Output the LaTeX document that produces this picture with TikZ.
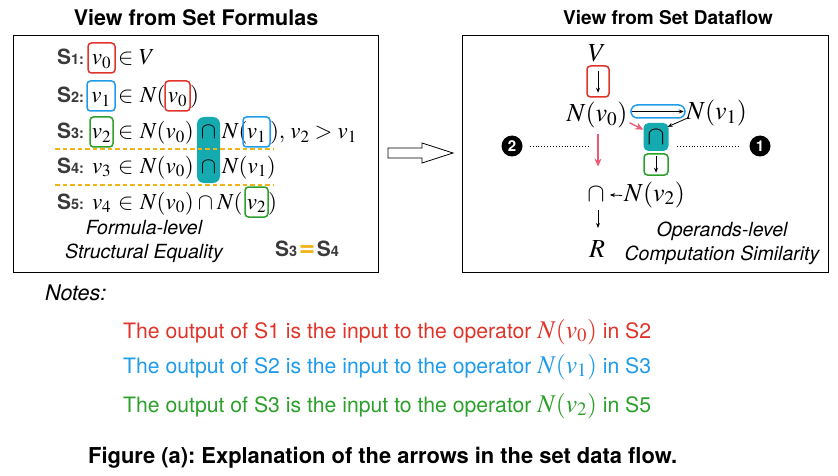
\documentclass[tikz,border=0pt]{standalone}
\usepackage{mathptmx}
\usepackage{fontspec}
\setsansfont{TeX Gyre Heros}
\usetikzlibrary{arrows.meta,backgrounds}
\definecolor{cred}{HTML}{E0342A}
\definecolor{cblue}{HTML}{1E9BEA}
\definecolor{cgreen}{HTML}{2BA02B}
\definecolor{cteal}{HTML}{15AAB0}
\definecolor{corange}{HTML}{F0B419}
\definecolor{cpink}{HTML}{EB5A78}
\definecolor{sgray}{HTML}{3A3A3A}
\frenchspacing
\newcommand{\slabel}[2]{{\sffamily\bfseries\color{sgray}\fontsize{21}{22}\selectfont S\fontsize{14.5}{15}\selectfont #1#2}}
\newcommand{\mfL}{\fontsize{23}{27}\selectfont}
\newcommand{\mfR}{\fontsize{26}{30}\selectfont}
\newcommand{\nmathfont}{\fontsize{25.5}{28}\selectfont}
\tikzset{
  txt/.style={inner sep=0pt, outer sep=0pt, anchor=base west, font=\mfL},
  vbox/.style={draw=#1, line width=1.5pt, rounded corners=3.5pt, inner xsep=0pt, inner ysep=3pt,
    text height=19pt, text depth=5pt, anchor=base, font=\mfL, outer sep=0pt},
  panel/.style={draw=black, line width=0.9pt},
  itlab/.style={font=\sffamily\itshape\fontsize{19.5}{24}\selectfont, align=center},
  arr/.style={-{Stealth[length=5pt,width=4pt]}, line width=0.8pt},
  parr/.style={-{Stealth[length=8pt,width=7pt]}, line width=1.6pt, cpink},
  dotl/.style={dotted, line width=0.9pt},
  numc/.style={circle, fill=black, text=white, inner sep=0pt, minimum size=21pt,
    font=\sffamily\bfseries\fontsize{15}{15}\selectfont},
  odash/.style={corange, line width=2pt, dash pattern=on 4.5pt off 3pt},
  note/.style={font=\sffamily\fontsize{21.2}{24}\selectfont, anchor=base west, inner sep=0pt},
}
\begin{document}
\begin{tikzpicture}[x=1pt,y=-1pt]
\useasboundingbox (0,0) rectangle (838,476);
% titles and panels
\node[font=\sffamily\bfseries\fontsize{21.5}{24}\selectfont] (t1) at (196,18) {View from Set Formulas};
\node[font=\sffamily\bfseries\fontsize{19}{22}\selectfont] (t2) at (668,18) {View from Set Dataflow};
\draw[panel] (13,35) rectangle (378,272);
\draw[panel] (462,35) rectangle (828,272);
% big hollow arrow
\draw[line width=0.8pt] (388,148)--(422,148)--(422,143)--(453,153)--(422,163)--(422,158)--(388,158)--cycle;

% ---------- left panel ----------
% teal highlight behind the two caps (S3, S4)
\node[fill=cteal, rounded corners=7pt, minimum width=23pt, minimum height=66pt, inner sep=0pt] (teal) at (208.5,150) {};
% S1
\node[txt] (s1l) at (57,65) {\slabel{1}{:}};
\node[vbox=cred, minimum width=27pt] (s1v) at (101.5,65) {$v_0$};
\node[txt] (s1e) at (118,65) {$\in$};
\node[txt] (s1r) at (139,65) {$V$};
% S2
\node[txt] (s2l) at (57,103) {\slabel{2}{:}};
\node[vbox=cblue, minimum width=28pt] (s2v) at (101,103) {$v_1$};
\node[txt] (s2e) at (118,103) {$\in$};
\node[txt] (s2a) at (140,103) {$N($};
\node[vbox=cred, minimum width=25pt] (s2w) at (177.5,103) {$v_0$};
\node[txt] (s2b) at (190,103) {$)$};
% S3
\node[txt] (s3l) at (57,139) {\slabel{3}{:}};
\node[vbox=cgreen, minimum width=23pt] (s3v) at (101.5,139) {$v_2$};
\node[txt] (s3e) at (118,139) {$\in$};
\node[txt] (s3a) at (140,139) {$N(v_0)$};
\node[txt, anchor=base] (c3) at (208.5,139) {$\cap$};
\node[txt] (s3b) at (222,139) {$N($};
\node[vbox=cblue, minimum width=27pt] (s3w) at (256.5,139) {$v_1$};
\node[txt] (s3c) at (270,139) {$),\, v_2 > v_1$};
% S4
\node[txt] (s4l) at (57,173) {\slabel{4}{:}};
\node[txt] (s4v) at (92,173) {$v_3$};
\node[txt] (s4e) at (118,173) {$\in$};
\node[txt] (s4a) at (140,173) {$N(v_0)$};
\node[txt, anchor=base] (c4) at (208.5,173) {$\cap$};
\node[txt] (s4b) at (222,173) {$N(v_1)$};
% S5
\node[txt] (s5l) at (57,209) {\slabel{5}{:}};
\node[txt] (s5v) at (92,209) {$v_4$};
\node[txt] (s5e) at (118,209) {$\in$};
\node[txt] (s5a) at (140,209) {$N(v_0)$};
\node[txt, anchor=base] (c5) at (205.5,209) {$\cap$};
\node[txt] (s5b) at (217,209) {$N($};
\node[vbox=cgreen, minimum width=23pt] (s5w) at (256.5,209) {$v_2$};
\node[txt] (s5c) at (268,209) {$)$};
% orange dashed separators
\coordinate (d1a) at (55,149); \coordinate (d1b) at (273,149);
\coordinate (d2a) at (55,185); \coordinate (d2b) at (273,185);
\draw[odash] (d1a) -- (d1b);
\draw[odash] (d2a) -- (d2b);
% labels
\node[itlab] (fl) at (144,242) {Formula-level\\Structural Equality};
\node[inner sep=0pt, anchor=base] (eq) at (307,256) {\slabel{3}{}\,{\color{corange}\sffamily\bfseries\fontsize{28}{28}\selectfont =}\,\slabel{4}{}};

% ---------- right panel ----------
\node[font=\mfR, inner sep=0pt, anchor=base] (V) at (597,62) {$V$};
\node[draw=cred, line width=1.5pt, rounded corners=3.5pt, minimum width=22pt, minimum height=31pt, inner sep=0pt] (rb) at (598,81.5) {};
\draw[arr] ([yshift=-6pt]rb.north) -- ([yshift=5pt]rb.south);
\node[font=\mfR, inner sep=0pt, anchor=base] (N0) at (597,122) {$N(v_0)$};
\node[font=\mfR, inner sep=0pt, anchor=base west] (N1) at (686,120) {$N(v_1)$};
\node[draw=cblue, line width=1.5pt, rounded corners=6.5pt, minimum width=54pt, minimum height=13pt, inner sep=0pt] (bo) at (658,111.5) {};
\draw[arr, line width=1pt] ([xshift=2pt]bo.west) -- ([xshift=-2pt]bo.east);
\node[fill=cteal, rounded corners=5pt, minimum width=25pt, minimum height=28pt, inner sep=0pt, font=\mfR] (tb) at (656,137) {$\cap$};
\draw[parr, line width=1.4pt] ([xshift=2pt,yshift=6pt]N0.south east) -- (tb.150);
\draw[arr] ([yshift=8pt]N1.south west) -- ([xshift=-1pt,yshift=-4pt]tb.north east);
\node[draw=cgreen, line width=1.5pt, rounded corners=3.5pt, minimum width=24pt, minimum height=21pt, inner sep=0pt] (gb) at (656,164.5) {};
\draw[arr] ([yshift=-3pt]gb.north) -- ([yshift=3pt]gb.south);
% numbered circles and dotted lines
\node[numc] (n2) at (512,146) {2};
\node[numc] (n1) at (760,146) {1};
\coordinate (dl) at (590,146);
\coordinate (dr) at (677,146);
\draw[dotl] ([xshift=7pt]n2.east) -- (dl);
\draw[dotl] (dr) -- ([xshift=-9pt]n1.west);
% lower part
\node[font=\mfR, inner sep=0pt, anchor=base] (cb) at (596,201) {$\cap$};
\draw[parr] ([xshift=1pt,yshift=-5pt]N0.south) -- ([xshift=2pt,yshift=20pt]cb.north);
\node[font=\mfR, inner sep=0pt, anchor=base west] (N2) at (624,201) {$N(v_2)$};
\draw[arr] ([xshift=-2pt,yshift=-1pt]N2.west) -- ([xshift=5pt,yshift=-1pt]cb.east);
\node[font=\mfR, inner sep=0pt, anchor=base] (R) at (597,257) {$R$};
\draw[arr] ([xshift=2pt,yshift=-9pt]cb.south) -- ([xshift=1pt,yshift=12pt]R.north);
\node[itlab] (ol) at (722,243) {Operands-level\\Computation Similarity};

% ---------- notes ----------
\node[font=\sffamily\itshape\fontsize{21.5}{24}\selectfont, anchor=base west, inner sep=0pt] (notes) at (45,300) {Notes:};
\node[note, text=cred] (l1) at (123,338) {The output of S1 is the input to the operator {\nmathfont$N(v_0)$} in S2};
\node[note, text=cblue] (l2) at (123,373) {The output of S2 is the input to the operator {\nmathfont$N(v_1)$} in S3};
\node[note, text=cgreen] (l3) at (123,412) {The output of S3 is the input to the operator {\nmathfont$N(v_2)$} in S5};
\node[font=\sffamily\bfseries\fontsize{21.9}{24}\selectfont, anchor=base west, inner sep=0pt] (cap) at (88,463) {Figure (a): Explanation of the arrows in the set data flow.};
\end{tikzpicture}
\end{document}
